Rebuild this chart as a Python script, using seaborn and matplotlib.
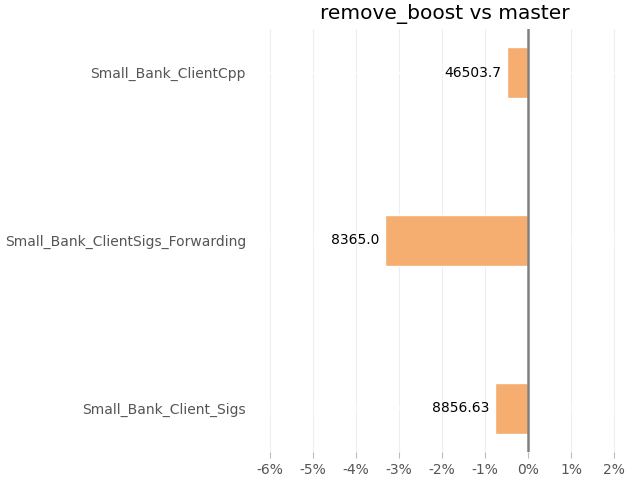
import numpy as np
import pandas as pd
import matplotlib
matplotlib.use('Agg')
import matplotlib.pyplot as plt
import seaborn as sns
from matplotlib.ticker import FuncFormatter

benchmarks = ['Small_Bank_ClientCpp', 'Small_Bank_ClientSigs_Forwarding', 'Small_Bank_Client_Sigs']
pct_change = [-0.49, -3.33, -0.77]
abs_values = ['46503.7', '8365.0', '8856.63']
title = 'remove_boost vs master'

BAR_COLOR = '#f5ae6f'
GRID_COLOR = '#eeeeee'
TEXT_GRAY = '#555555'

sns.set_theme(style='white')
plt.rcParams['font.family'] = ['DejaVu Sans']

df = pd.DataFrame({'benchmark': benchmarks, 'change': pct_change, 'value': abs_values})

fig = plt.figure(figsize=(6.4, 4.8), dpi=100)
ax = fig.add_axes([262 / 640, 28 / 480, 365 / 640, 423 / 480])

sns.barplot(data=df, x='change', y='benchmark', color=BAR_COLOR, width=0.3,
            saturation=1, ax=ax, zorder=2)

ax.bar_label(ax.containers[0], labels=df['value'], padding=4, fontsize=10, color='black')

ax.set_xlim(-6.19, 2.3)
ax.set_ylim(2.26, -0.26)
ax.set_xticks(np.arange(-6, 3, 1))
ax.xaxis.set_major_formatter(FuncFormatter(lambda v, _: f'{v:.0f}%'))

ax.axvline(0, color='#808080', lw=1.8, zorder=3)
for xv in np.arange(-6, 3, 1):
    ax.axvline(xv, color=GRID_COLOR, lw=0.8, zorder=0)
for yv in range(len(benchmarks)):
    ax.axhline(yv, color='white', lw=1.2, zorder=1)

for side in ['top', 'right', 'left', 'bottom']:
    ax.spines[side].set_visible(False)

ax.tick_params(axis='x', bottom=True, length=4, width=0.8, color='#bbbbbb',
               labelsize=10, labelcolor=TEXT_GRAY, pad=4)
ax.tick_params(axis='y', left=False, labelsize=10, labelcolor=TEXT_GRAY, pad=5.5)
ax.set_xlabel('')
ax.set_ylabel('')
ax.set_title(title, fontsize=14.5, color='black', pad=7)

fig.savefig('out.png', dpi=100)
